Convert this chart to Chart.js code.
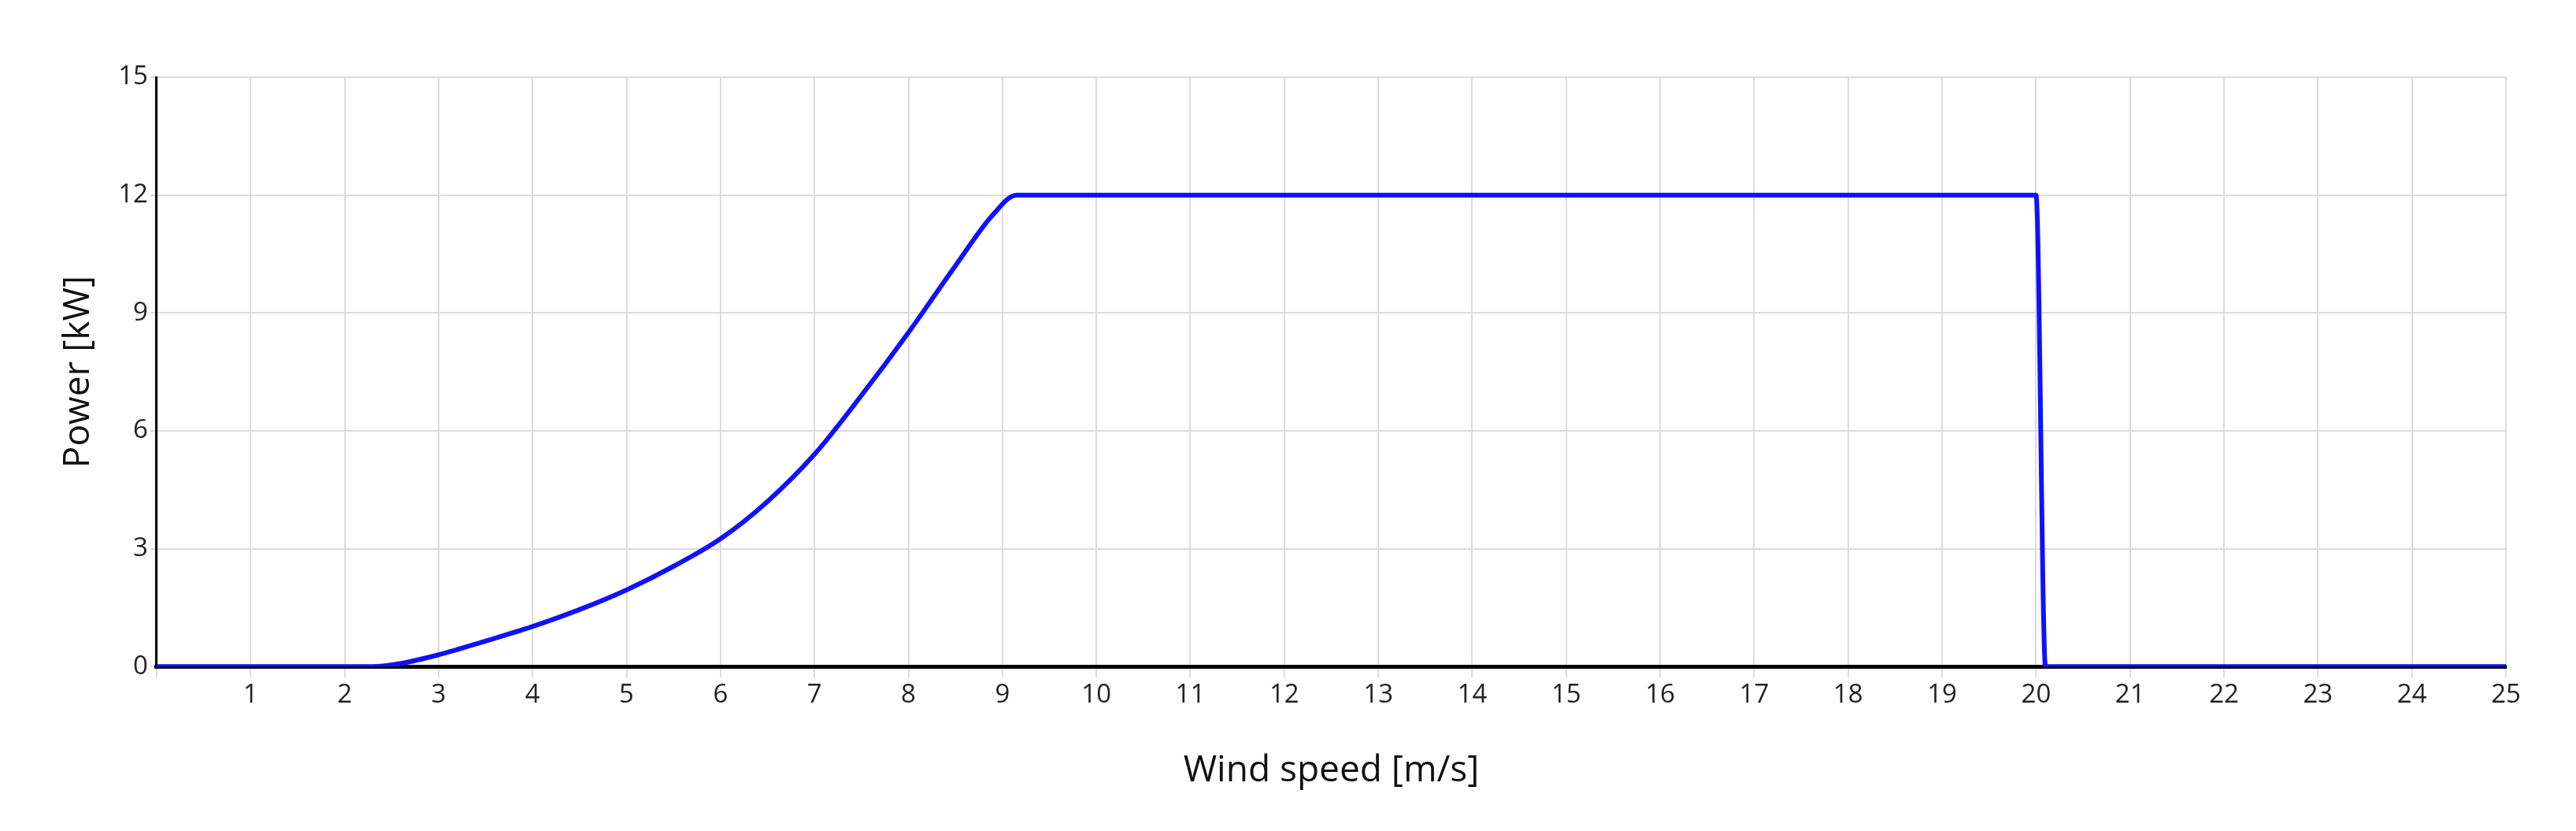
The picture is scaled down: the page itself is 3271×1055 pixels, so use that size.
<!DOCTYPE html>
<html>
<head>
<meta charset="utf-8">
<script src="https://cdn.jsdelivr.net/npm/chart.js@4"></script>
<style>
  html, body { margin: 0; padding: 0; background: #fff; }
</style>
</head>
<body>
<canvas id="myChart" width="3271" height="1055"></canvas>
<script>
// power curve
const windSpeed = [0, 2.3, 2.6, 3, 3.5, 4, 4.5, 5, 5.5, 6, 6.5, 7, 7.5, 8, 8.5, 8.9, 9.15, 20, 20.1, 25];
const power     = [0, 0, 0.08, 0.3, 0.65, 1.02, 1.45, 1.95, 2.55, 3.25, 4.2, 5.4, 6.9, 8.5, 10.2, 11.5, 12, 12, 0, 0];
const yTicks = [0, 3, 6, 9, 12, 15];

const ctx = document.getElementById('myChart');
const font = "'Open Sans', 'Noto Sans', sans-serif";

new Chart(ctx, {
    type: 'line',
    data: {
        datasets: [{
            data: windSpeed.map((x, i) => ({ x: x, y: power[i] })),
            borderColor: '#1010ff',
            borderWidth: 6,
            pointRadius: 0,
            cubicInterpolationMode: 'monotone',
            fill: false
        }]
    },
    options: {
        responsive: false,
        devicePixelRatio: 1,
        animation: false,
        layout: { padding: { left: 68, right: 89, top: 98, bottom: 45 } },
        plugins: { legend: { display: false }, tooltip: { enabled: false } },
        scales: {
            x: {
                type: 'linear',
                min: 0,
                max: 25,
                ticks: {
                    stepSize: 1,
                    color: '#222',
                    font: { family: font, size: 33 },
                    callback: v => v === 0 ? '' : v,
                    maxRotation: 0,
                    autoSkip: false
                },
                grid: { color: '#dcdcdc', lineWidth: 2, tickLength: 14 },
                border: { color: '#000', width: 5 },
                title: {
                    display: true,
                    text: 'Wind speed [m/s]',
                    color: '#111',
                    font: { family: font, size: 46 },
                    padding: { top: 45 }
                }
            },
            y: {
                min: 0,
                max: 15,
                afterBuildTicks: scale => { scale.ticks = yTicks.map(v => ({ value: v })); },
                ticks: {
                    color: '#222',
                    font: { family: font, size: 33 }
                },
                grid: { color: '#dcdcdc', lineWidth: 2, tickLength: 8 },
                border: { color: '#000', width: 3 },
                title: {
                    display: true,
                    text: 'Power [kW]',
                    color: '#111',
                    font: { family: font, size: 46 },
                    padding: { bottom: 20 }
                }
            }
        }
    }
});
</script>
</body>
</html>
